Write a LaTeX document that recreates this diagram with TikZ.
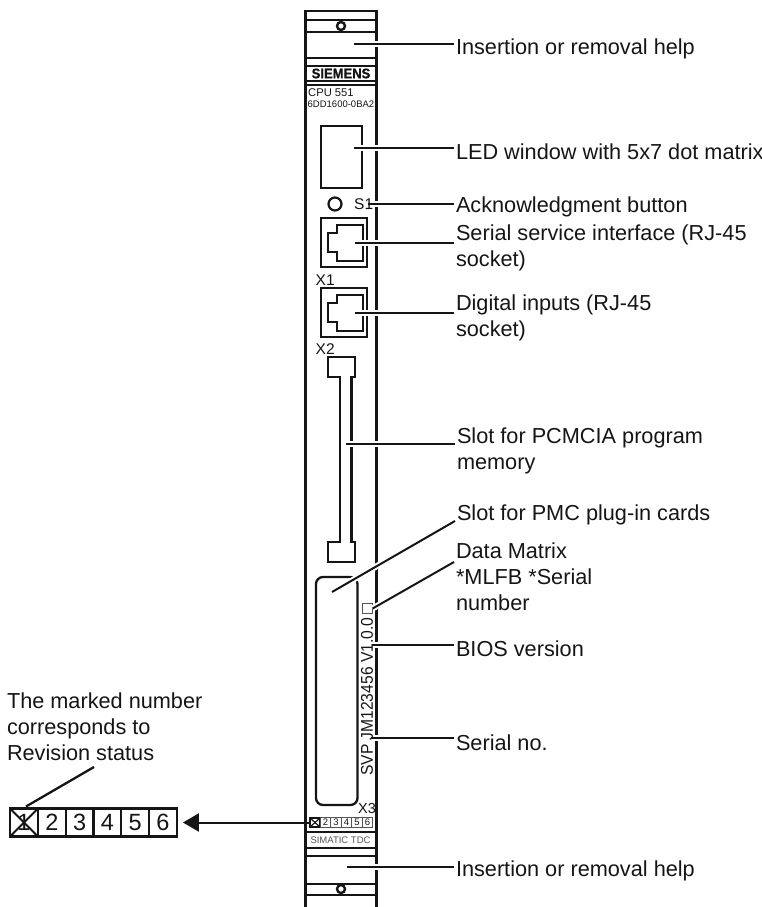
\documentclass[tikz,border=0pt]{standalone}
\usepackage{fontspec}
\setmainfont{Liberation Sans}
\newfontfamily\narrowfont{Liberation Sans}[FakeStretch=0.92]
\newfontfamily\logofont{Liberation Sans}[BoldFeatures={FakeBold=0.8,FakeStretch=0.93}]
\usepackage{tikz}
\usetikzlibrary{positioning,arrows.meta}
\definecolor{inkdark}{HTML}{151515}
\definecolor{inkgrey}{HTML}{555555}

\begin{document}
\begin{tikzpicture}[
  x=1pt, y=-1pt,
  panelline/.style={draw=inkdark, line width=2.3pt},
  panelbox/.style={rectangle, draw=inkdark, line width=2.3pt, inner sep=0pt, outer sep=0pt},
  callout/.style={anchor=west, align=left, inner sep=0pt, outer xsep=2pt, text=inkdark,
    font=\fontsize{21.7}{25.8}\selectfont},
  leader/.style={draw=inkdark, line width=2pt,
    preaction={draw=white, line width=6pt}},
  bigcell/.style={rectangle, draw=inkdark, line width=2.3pt, inner sep=0pt, outer sep=0pt,
    minimum width=27.8pt, minimum height=28pt, text=inkdark,
    font=\fontsize{23.5}{23.5}\selectfont},
  smallcell/.style={rectangle, draw=inkgrey, line width=0.7pt, inner sep=0pt, outer sep=0pt,
    minimum width=10.5pt, minimum height=9.5pt, text=inkdark,
    font=\fontsize{9.5}{9.5}\selectfont},
  paneltext/.style={inner sep=0pt, text=inkdark, font=\fontsize{15.5}{15.5}\selectfont},
]
\useasboundingbox (0,0) rectangle (762,907);

% front panel rails and bands
\draw[panelline] (305.5,907) -- (305.5,11) -- (376.5,11) -- (376.5,907);
\draw[panelline] (305.5,20) -- (376.5,20);
\draw[panelline] (305.5,32) -- (376.5,32);
\draw[panelline] (305.5,58) -- (376.5,58);
\draw[panelline] (305.5,66) -- (376.5,66);
\draw[panelline] (305.5,81) -- (376.5,81);
\draw[panelline] (305.5,85) -- (376.5,85);
\draw[panelline] (305.5,832) -- (376.5,832);
\draw[panelline] (305.5,848) -- (376.5,848);
\draw[panelline] (305.5,856) -- (376.5,856);
\draw[panelline] (305.5,884) -- (376.5,884);
\draw[panelline] (305.5,895) -- (376.5,895);
\node[circle, draw=inkdark, line width=2.4pt, fill=white, minimum size=8pt, inner sep=0pt] (topscrew) at (341,26) {};
\node[circle, draw=inkdark, line width=2.4pt, fill=white, minimum size=8pt, inner sep=0pt] (botscrew) at (341,889) {};

% LED window, button, sockets
\node[panelbox, minimum width=40.7pt, minimum height=62pt] (ledwin) at (341.3,157) {};
\node[circle, draw=inkdark, line width=2.2pt, minimum size=13pt, inner sep=0pt] (ackbtn) at (335,204) {};
\node[panelbox, minimum width=46pt, minimum height=49pt] (jackone) at (344,242.5) {};
\node[panelbox, minimum width=46pt, minimum height=49pt] (jacktwo) at (344,312.5) {};
\draw[panelline] ([shift={(18.7,-17.5)}]jackone.center) -- ++(-25.7,0) -- ++(0,8) -- ++(-9,0) -- ++(0,19) -- ++(9,0) -- ++(0,8.7) -- ++(25.7,0) -- cycle;
\draw[panelline] ([shift={(18.7,-17.5)}]jacktwo.center) -- ++(-25.7,0) -- ++(0,8) -- ++(-9,0) -- ++(0,19) -- ++(9,0) -- ++(0,8.7) -- ++(25.7,0) -- cycle;

% memory slot and PMC slot
\draw[panelline] (328,357) -- (355,357) -- (355,377) -- (351.5,377) -- (351.5,542) -- (355,542) -- (355,562) -- (328,562) -- (328,542) -- (340,542) -- (340,377) -- (328,377) -- cycle;
\draw[panelline, rounded corners=7pt] (357.5,577) -- (316,577) -- (316,805) -- (357.5,805) -- cycle;
\node[rectangle, draw=inkgrey, line width=0.8pt, minimum size=9.5pt, inner sep=0pt] (matrixbox) at (367.5,608.5) {};

% revision strip on the panel
\node[smallcell, draw=inkdark, line width=1.6pt] (small1) at (315,822.5) {};
\draw[inkdark, line width=1.2pt] (small1.north west) -- (small1.south east);
\draw[inkdark, line width=1.2pt] (small1.north east) -- (small1.south west);
\node[smallcell, right=0pt of small1] (small2) {2};
\node[smallcell, right=0pt of small2] (small3) {3};
\node[smallcell, right=0pt of small3] (small4) {4};
\node[smallcell, right=0pt of small4] (small5) {5};
\node[smallcell, right=0pt of small5] (small6) {6};

% enlarged revision strip
\node[bigcell] (big1) at (24,822.5) {1};
\draw[inkdark, line width=2pt] (big1.north west) -- (big1.south east);
\draw[inkdark, line width=2pt] (big1.north east) -- (big1.south west);
\node[bigcell, right=0pt of big1] (big2) {2};
\node[bigcell, right=0pt of big2] (big3) {3};
\node[bigcell, right=0pt of big3] (big4) {4};
\node[bigcell, right=0pt of big4] (big5) {5};
\node[bigcell, right=0pt of big5] (big6) {6};

% callouts
\node[callout] (insertop) at (454,49) {Insertion or removal help};
\node[callout] (ledtext) at (454,152) {LED window with 5x7 dot matrix};
\node[callout] (acktext) at (454,207) {Acknowledgment button};
\node[callout] (servicetext) at (454,247.5) {Serial service interface (RJ-45\\socket)};
\node[callout] (inputtext) at (454,318) {Digital inputs (RJ-45\\socket)};
\node[callout] (pcmciatext) at (455,451) {Slot for PCMCIA program\\memory};
\node[callout] (pmctext) at (455,515) {Slot for PMC plug-in cards};
\node[callout] (matrixtext) at (454,577) {Data Matrix\\*MLFB *Serial\\number};
\node[callout] (biostext) at (454,649) {BIOS version};
\node[callout] (serialtext) at (454,743) {Serial no.};
\node[callout] (insertbot) at (454,871) {Insertion or removal help};
\node[callout] (revtext) at (5,727) {The marked number\\corresponds to\\Revision status};

% leader ends inside the panel
\coordinate (topgrip) at (354,44);
\coordinate (ledend) at (354,148);
\coordinate (ackend) at (368,204);
\coordinate (serviceend) at (355,243);
\coordinate (inputend) at (355,313);
\coordinate (pcmciaend) at (346,444);
\coordinate (pmcend) at (332,592);
\coordinate (biosend) at (372,645);
\coordinate (serialend) at (371,738);
\coordinate (botgrip) at (347,867);
\coordinate (revend) at (94,767);

\draw[leader] (topgrip) -- ([yshift=5pt]insertop.west);
\draw[leader] (ledend) -- ([yshift=4pt]ledtext.west);
\draw[leader] (ackend) -- ([yshift=3pt]acktext.west);
\draw[leader] (serviceend) -- ([yshift=4.5pt]servicetext.west);
\draw[leader] (inputend) -- ([yshift=5pt]inputtext.west);
\draw[leader] (pcmciaend) -- ([yshift=7pt]pcmciatext.west);
\draw[leader] (pmcend) -- ([yshift=-6pt]pmctext.west);
\draw[leader] (matrixbox.east) -- ([yshift=15pt]matrixtext.west);
\draw[leader] (biosend) -- ([yshift=4pt]biostext.west);
\draw[leader] (serialend) -- ([yshift=5pt]serialtext.west);
\draw[leader] (botgrip) -- ([yshift=4pt]insertbot.west);
\draw[panelline] ([shift={(2,-2)}]big1.north) -- (revend);
\draw[draw=inkdark, line width=2pt, -{Triangle[length=16pt,width=18pt]}, shorten >=6pt] (small1.west) -- (big6.east);

% panel lettering goes over the leaders
\node[paneltext, fill=white, inner xsep=1pt, font=\logofont\bfseries\fontsize{14}{14}\selectfont] (siemens) at (341,73.5) {SIEMENS};
\node[paneltext, anchor=west, font=\fontsize{11.2}{11.2}\selectfont] (cputext) at (308,93) {CPU 551};
\node[paneltext, anchor=west, font=\fontsize{9.5}{9.5}\selectfont] (ordertext) at (307.5,104) {6DD1600-0BA2};
\node[paneltext, anchor=west] (stext) at (354,204) {S1};
\node[paneltext, anchor=west] (xone) at (315.5,280) {X1};
\node[paneltext, anchor=west] (xtwo) at (315.5,349) {X2};
\node[paneltext, anchor=west, font=\fontsize{14.5}{14.5}\selectfont] (xthree) at (358,808) {X3};
\node[paneltext, anchor=west, rotate=90, font=\narrowfont\fontsize{17}{17}\selectfont] (svptext) at (367,776) {\spaceskip=.25em SVP JM123456 V1.0.0};
\node[paneltext, text=inkgrey, font=\fontsize{9.5}{9.5}\selectfont] (simatic) at (340.5,840) {SIMATIC TDC};
\end{tikzpicture}
\end{document}
